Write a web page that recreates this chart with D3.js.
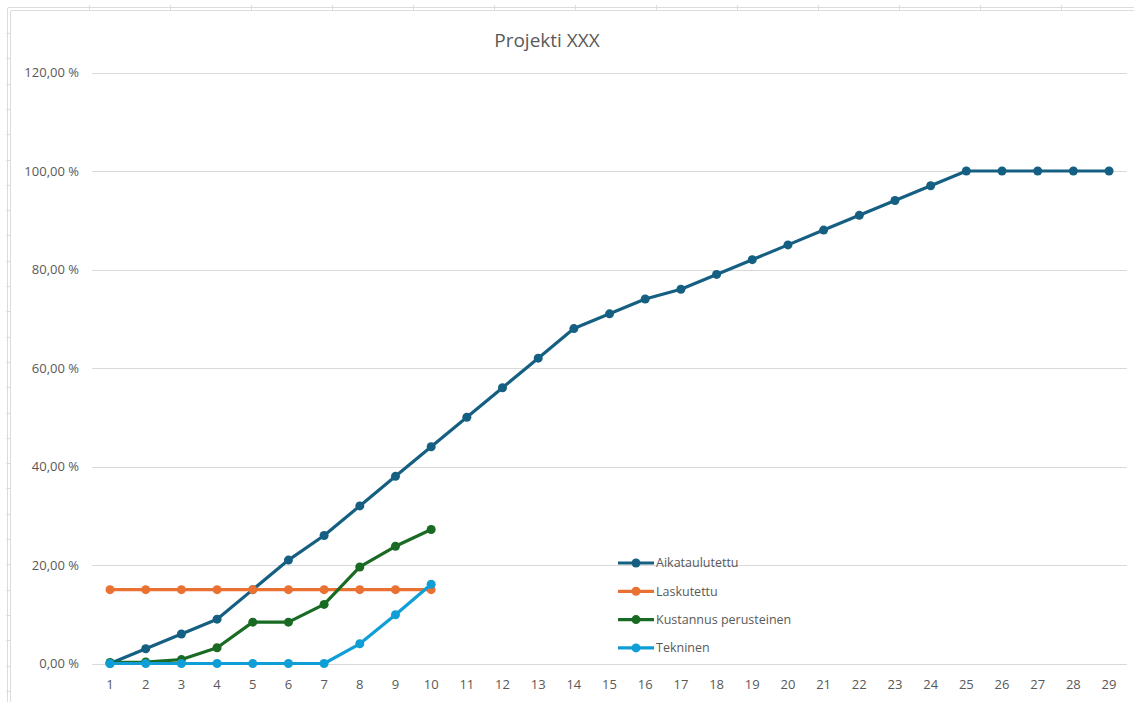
<!DOCTYPE html>
<html>
<head>
<meta charset="utf-8">
<script src="https://cdn.jsdelivr.net/npm/d3@7"></script>
<style>
  html, body { margin: 0; padding: 0; background: #fff; }
  #js-canvas { width: 1134px; height: 702px; }
  text { font-family: "Open Sans", Lato, sans-serif; fill: #595959; }
</style>
</head>
<body>
<div id="js-canvas"></div>
<script>
"use strict";

// Week numbers on the x axis.
const periods = d3.range(1, 30);

// Series names, in legend order.
const seriesNames = ["Aikataulutettu", "Laskutettu", "Kustannus perusteinen", "Tekninen"];

// Office theme colours for the series.
const seriesColors = ["#156082", "#E97132", "#196B24", "#0F9ED5"];

// Values in percent.
const aikataulutettu = [0, 3, 6, 9, 15, 21, 26, 32, 38, 44, 50, 56, 62, 68, 71,
  74, 76, 79, 82, 85, 88, 91, 94, 97, 100, 100, 100, 100, 100];
const laskutettu = [15, 15, 15, 15, 15, 15, 15, 15, 15, 15];
const kustannus = [0.2, 0.3, 0.8, 3.2, 8.4, 8.4, 12, 19.6, 23.8, 27.2];
const tekninen = [0, 0, 0, 0, 0, 0, 0, 4, 9.9, 16.1];

// Y axis ticks.
const yTicks = [0, 20, 40, 60, 80, 100, 120];

const chartTitle = "Projekti XXX";

const width = 1134;
const height = 702;

function createCanvas(w, h) {
  return d3.select("#js-canvas")
    .append("svg")
      .attr("width", w)
      .attr("height", h);
}

// The spreadsheet cells peeking out around the chart area.
function drawSheet(svg) {
  const g = svg.append("g").attr("stroke", "#dcdcdc").attr("fill", "none");
  g.append("line").attr("x1", 8).attr("x2", width).attr("y1", 7.5).attr("y2", 7.5);
  g.append("line").attr("x1", 11).attr("x2", width).attr("y1", 10.5).attr("y2", 10.5);
  g.append("line").attr("x1", 7.5).attr("x2", 7.5).attr("y1", 8).attr("y2", height);
  g.append("line").attr("x1", 10.5).attr("x2", 10.5).attr("y1", 11).attr("y2", height);
  d3.range(89, width, 81).forEach(function (x) {
    g.append("line").attr("x1", x + 0.5).attr("x2", x + 0.5).attr("y1", 5).attr("y2", 10);
  });
  d3.range(33, height, 25.3).forEach(function (y) {
    g.append("line").attr("x1", 6).attr("x2", 10)
      .attr("y1", Math.round(y) + 0.5).attr("y2", Math.round(y) + 0.5);
  });
}

function fmtPct(v) {
  return d3.format(".2f")(v).replace(".", ",") + " %";
}

const svg = createCanvas(width, height);
drawSheet(svg);

const x = d3.scaleBand()
  .domain(periods)
  .range([92.2, 1126.9]);

const y = d3.scaleLinear()
  .domain([0, 120])
  .range([663.5, 72.5]);

const cx = function (i) { return x(periods[i]) + x.bandwidth() / 2; };

// Gridlines.
svg.append("g")
  .selectAll("line")
  .data(yTicks)
  .enter()
  .append("line")
    .attr("x1", x.range()[0])
    .attr("x2", x.range()[1])
    .attr("y1", function (d) { return Math.round(y(d)) + 0.5; })
    .attr("y2", function (d) { return Math.round(y(d)) + 0.5; })
    .attr("stroke", "#d9d9d9")
    .attr("stroke-width", 1);

// Y axis labels.
svg.append("g")
  .selectAll("text")
  .data(yTicks)
  .enter()
  .append("text")
    .attr("x", 79)
    .attr("y", function (d) { return y(d); })
    .attr("dy", "0.35em")
    .attr("text-anchor", "end")
    .style("font-size", "13px")
    .text(fmtPct);

// X axis labels.
svg.append("g")
  .selectAll("text")
  .data(periods)
  .enter()
  .append("text")
    .attr("x", function (d) { return x(d) + x.bandwidth() / 2; })
    .attr("y", 689)
    .attr("text-anchor", "middle")
    .style("font-size", "13px")
    .text(function (d) { return d; });

// Title.
svg.append("text")
  .attr("x", 547)
  .attr("y", 47)
  .attr("text-anchor", "middle")
  .style("font-size", "19px")
  .text(chartTitle);

const allSeries = [aikataulutettu, laskutettu, kustannus, tekninen];

const line = d3.line()
  .x(function (d, i) { return cx(i); })
  .y(function (d) { return y(d); });

allSeries.forEach(function (vals, s) {
  const g = svg.append("g");
  g.append("path")
    .attr("d", line(vals))
    .attr("fill", "none")
    .attr("stroke", seriesColors[s])
    .attr("stroke-width", 3.2)
    .attr("stroke-linejoin", "round");
  g.selectAll("circle")
    .data(vals)
    .enter()
    .append("circle")
      .attr("cx", function (d, i) { return cx(i); })
      .attr("cy", function (d) { return y(d); })
      .attr("r", 4.5)
      .attr("fill", seriesColors[s]);
});

// Legend.
const legend = svg.append("g").attr("transform", "translate(618,563)");
seriesNames.forEach(function (name, i) {
  const row = legend.append("g").attr("transform", "translate(0," + (i * 28.3) + ")");
  row.append("line")
    .attr("x1", 0).attr("x2", 36)
    .attr("stroke", seriesColors[i])
    .attr("stroke-width", 3.2);
  row.append("circle")
    .attr("cx", 18).attr("r", 4.5)
    .attr("fill", seriesColors[i]);
  row.append("text")
    .attr("x", 38)
    .attr("dy", "0.35em")
    .style("font-size", "12.5px")
    .text(name);
});
</script>
</body>
</html>
